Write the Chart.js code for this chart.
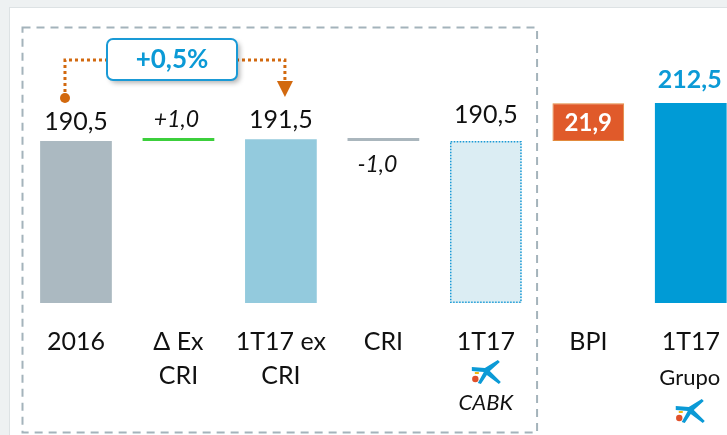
<!DOCTYPE html>
<html>
<head>
<meta charset="utf-8">
<script src="https://cdn.jsdelivr.net/npm/chart.js@4/dist/chart.umd.min.js"></script>
<style>
  html, body { margin: 0; padding: 0; width: 727px; height: 435px; overflow: hidden; background: #eef1f2; }
  #panel { position: absolute; left: 9px; top: 7px; width: 730px; height: 440px; background: #fff; border: 1px solid #dde2e4; }
  #wrap { position: absolute; left: 0; top: 0; width: 760px; height: 435px; }
</style>
</head>
<body>
<div id="panel"></div>
<div id="wrap"><canvas id="chart-bridge" width="760" height="435"></canvas></div>
<script>
// categories and values
const categories = ['2016', 'Δ Ex CRI', '1T17 ex CRI', 'CRI', '1T17 CABK', 'BPI', '1T17 Grupo'];
const totals = [190.5, null, 191.5, null, 190.5, null, 212.5];
const deltas = [null, 1.0, null, -1.0, null, 21.9, null];
const valueLabels = ['190,5', '+1,0', '191,5', '-1,0', '190,5', '21,9', '212,5'];
const tickLines = [['2016'], ['Δ Ex', 'CRI'], ['1T17 ex', 'CRI'], ['CRI'], ['1T17'], ['BPI'], ['1T17']];
const growthLabel = '+0,5%';

const barColors = ['#abb9c1', '#3ccf3c', '#93cadd', '#aab6bd', '#dbedf3', '#e05a2a', '#009bd6'];
const FONT = 'Lato, "Open Sans", sans-serif';

// build floating bars: totals from 0, deltas from running total
let running = 0;
const barData = categories.map(function (c, i) {
    if (totals[i] !== null) {
        running = totals[i];
        return [0, totals[i]];
    }
    const start = running;
    running = +(running + deltas[i]).toFixed(1);
    return [start, running];
});

function drawLogo(c, x, y) {
    // la Caixa star, centred at x,y
    const pts = [[-15, -5], [-2, -4], [11, -12], [13, -10], [3, -1], [14, 10], [12, 12], [0, 3],
                 [-6, 12], [-9, 11], [-3, 0], [-15, -1]];
    c.save();
    c.fillStyle = '#0b9ad6';
    c.beginPath();
    pts.forEach(function (p, k) {
        if (k === 0) c.moveTo(x + p[0], y + p[1]);
        else c.lineTo(x + p[0], y + p[1]);
    });
    c.closePath();
    c.fill();
    c.fillStyle = '#f2b90f';
    c.fillRect(x - 12, y, 4, 2);
    c.fillStyle = '#e0502a';
    c.beginPath();
    c.arc(x - 11.5, y + 7, 3.2, 0, Math.PI * 2);
    c.fill();
    c.restore();
}

const bridgePlugin = {
    id: 'bridge',
    afterDatasetsDraw: function (chart) {
        const c = chart.ctx;
        const xs = chart.scales.x;
        const area = chart.chartArea;
        const meta = chart.getDatasetMeta(0);
        c.save();

        // dotted border of the CABK bar
        const cabk = meta.data[4];
        c.strokeStyle = '#1a9ad6';
        c.lineWidth = 1.5;
        c.setLineDash([1.5, 1.5]);
        c.strokeRect(cabk.x - cabk.width / 2 + 0.75, cabk.y + 0.75, cabk.width - 1.5, area.bottom - cabk.y - 1.5);

        // dashed frame around the CaixaBank part
        c.strokeStyle = '#a4b3bb';
        c.lineWidth = 2;
        c.setLineDash([8, 6]);
        const frameRight = (xs.getPixelForValue(4) + xs.getPixelForValue(5)) / 2;
        c.strokeRect(22.5, 27.5, frameRight - 22.5, 405);
        c.setLineDash([]);

        // value labels
        c.textAlign = 'center';
        c.textBaseline = 'alphabetic';
        c.fillStyle = '#111';
        c.font = '25px ' + FONT;
        [0, 2].forEach(function (i) {
            c.fillText(valueLabels[i], xs.getPixelForValue(i), meta.data[i].y - 11);
        });
        c.fillText(valueLabels[4], xs.getPixelForValue(4), meta.data[4].y - 18);
        c.font = 'italic 23px ' + FONT;
        c.fillText(valueLabels[1], xs.getPixelForValue(1) - 2, meta.data[1].y - 11);
        c.fillText(valueLabels[3], xs.getPixelForValue(3) - 6, meta.data[3].y + 34);
        c.font = 'bold 24px ' + FONT;
        c.fillStyle = '#fff';
        c.textBaseline = 'middle';
        c.fillText(valueLabels[5], xs.getPixelForValue(5), (meta.data[5].y + meta.data[5].base) / 2 + 1);
        c.fillStyle = '#0b9ad6';
        c.textBaseline = 'alphabetic';
        c.font = 'bold 25px ' + FONT;
        c.fillText(valueLabels[6], xs.getPixelForValue(6) - 1, meta.data[6].y - 15);

        // category labels
        c.fillStyle = '#111';
        c.font = '25px ' + FONT;
        tickLines.forEach(function (lines, i) {
            lines.forEach(function (t, k) {
                c.fillText(t, xs.getPixelForValue(i), area.bottom + 47 + k * 34);
            });
        });
        c.font = 'italic 22px ' + FONT;
        c.fillText('CABK', xs.getPixelForValue(4), area.bottom + 107);
        c.font = '22px ' + FONT;
        c.fillText('Grupo', xs.getPixelForValue(6) - 1, area.bottom + 82);
        drawLogo(c, xs.getPixelForValue(4) + 1, area.bottom + 69);
        drawLogo(c, xs.getPixelForValue(6), area.bottom + 108);

        // growth connector from 2016 to 1T17 ex CRI
        const x0 = xs.getPixelForValue(0) - 11;
        const x2 = xs.getPixelForValue(2) + 4;
        const lineY = 60;
        c.strokeStyle = '#d2690f';
        c.fillStyle = '#d2690f';
        c.lineWidth = 3;
        c.setLineDash([3, 3]);
        c.beginPath();
        c.moveTo(x0, 92);
        c.lineTo(x0, lineY);
        c.lineTo(110, lineY);
        c.moveTo(236, lineY);
        c.lineTo(x2, lineY);
        c.lineTo(x2, 82);
        c.stroke();
        c.setLineDash([]);
        c.beginPath();
        c.arc(x0, 98, 5, 0, Math.PI * 2);
        c.fill();
        c.beginPath();
        c.moveTo(x2 - 8, 81);
        c.lineTo(x2 + 8, 81);
        c.lineTo(x2, 97);
        c.closePath();
        c.fill();

        // growth box
        c.shadowColor = 'rgba(0,0,0,0.3)';
        c.shadowBlur = 5;
        c.shadowOffsetX = 3;
        c.shadowOffsetY = 3;
        c.fillStyle = '#fff';
        c.beginPath();
        c.roundRect(107, 39, 130, 41, 6);
        c.fill();
        c.shadowColor = 'transparent';
        c.strokeStyle = '#1a9ad6';
        c.lineWidth = 2;
        c.stroke();
        c.fillStyle = '#0b9ad6';
        c.font = 'bold 26px ' + FONT;
        c.textBaseline = 'middle';
        c.fillText(growthLabel, 172, 60);

        c.restore();
    }
};

const ctx = document.getElementById('chart-bridge');
new Chart(ctx, {
    type: 'bar',
    data: {
        labels: categories,
        datasets: [{
            data: barData,
            backgroundColor: barColors,
            borderColor: ['#abb9c1', '#3ccf3c', '#93cadd', '#aab6bd', '#dbedf3', '#e28a3c', '#009bd6'],
            borderWidth: [0, 0, 0, 0, 0, 1, 0],
            borderSkipped: false,
            minBarLength: 3,
            barPercentage: 0.7,
            categoryPercentage: 1,
            clip: 0
        }]
    },
    options: {
        responsive: false,
        animation: false,
        layout: { padding: { left: 24.75, right: 18, top: 30, bottom: 132 } },
        plugins: { legend: { display: false }, tooltip: { enabled: false } },
        scales: {
            x: { display: false },
            y: { display: false, min: 96.7, max: 254.8 }
        }
    },
    plugins: [bridgePlugin]
});
</script>
</body>
</html>
